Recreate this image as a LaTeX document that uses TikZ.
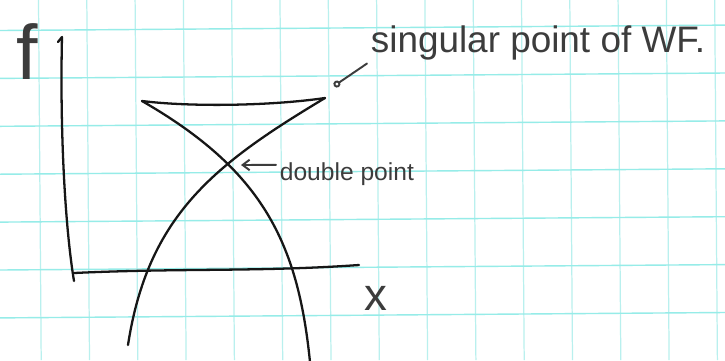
\documentclass[tikz,border=0pt]{standalone}
\usepackage{fontspec}
\setmainfont{Liberation Sans}
\usepackage{tikz}
\usetikzlibrary{
    arrows.meta,
    positioning,
    calc
}
\definecolor{Cgrid}{RGB}{150, 236, 232}
\definecolor{Cgridv}{RGB}{185, 240, 238}
\definecolor{Cink}{RGB}{22, 22, 22}
\definecolor{Cpen}{RGB}{60, 60, 60}
\tikzset{
    gridrow/.style={line width=0.8pt, Cgrid},
    gridcol/.style={line width=0.7pt, Cgridv},
    ink/.style={line width=1.3pt, Cink, line cap=round, line join=round},
    hand/.style={text=Cpen, inner sep=2pt},
    harr/.style={line width=1.1pt, Cpen, line cap=round},
}

\begin{document}
\begin{tikzpicture}[x=0.02cm, y=-0.02cm]

    % ── 背景与方格纸 ──────────────────────────────────────
    \fill [white] (0,0) rectangle (725,360);
    \useasboundingbox (0,0) rectangle (725,360);
    \foreach \k in {0,...,14}
        \draw [gridcol] ({38.5+48.3*\k},0) -- ({41.2+48.3*\k},360);
    \foreach \k in {0,...,6}
        \draw [gridrow] (0,{30.5+47.9*\k}) -- (725,{25.1+47.9*\k});

    % ── 坐标轴 ───────────────────────────────────────────
    \coordinate (ytop) at (62,37);
    \coordinate (origin) at (74,281);
    \coordinate (xend) at (359,265);
    \draw [ink] (58,42) -- (ytop) .. controls (60,120) and (64,220) .. (origin);
    \draw [ink] (74,273) .. controls (180,268) and (260,272) .. (xend);
    \node [hand, font=\fontsize{44}{44}\selectfont] (flabel) at (27,52) {f};
    \node [hand, font=\fontsize{26}{26}\selectfont] (xlabel) at (376,298) {x};

    % ── 燕尾曲线 ─────────────────────────────────────────
    \coordinate (cuspL) at (142,101);
    \coordinate (cuspR) at (325,98);
    \coordinate (dbl) at (231,162);
    \draw [ink] (cuspL) .. controls (190,107) and (270,106) .. (cuspR);
    \draw [ink] (cuspL) .. controls (262,170) and (298,242) .. (310,362);
    \draw [ink] (cuspR) .. controls (215,164) and (148,215) .. (128,345);

    % ── 标注 ─────────────────────────────────────────────
    \node [hand, anchor=base west, font=\fontsize{21}{21}\selectfont]
        (singlabel) at (367,52) {singular point of WF.};
    \coordinate (singtip) at (334,86);
    \draw [harr, -{Circle[open, length=4pt]}] (singlabel.south west) -- (singtip);

    \node [hand, anchor=base west, font=\fontsize{14}{14}\selectfont]
        (dbllabel) at (276,180) {double point};
    \coordinate (dbltip) at (241,165);
    \draw [harr, -{Straight Barb[length=4pt, width=6pt]}] ([yshift=5pt]dbllabel.west) -- (dbltip);

\end{tikzpicture}
\end{document}
